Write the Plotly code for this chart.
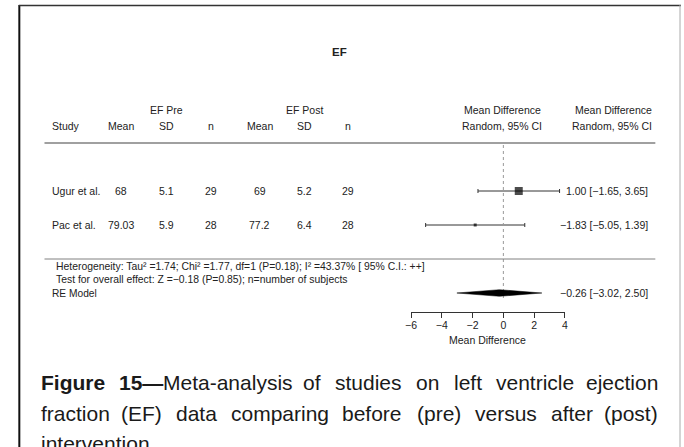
import os
import glob
import plotly.graph_objects as go

W, H = 684, 447

# ---------------- data ----------------
studies = ["Ugur et al.", "Pac et al."]
pre_mean = ["68", "79.03"]
pre_sd = ["5.1", "5.9"]
pre_n = ["29", "28"]
post_mean = ["69", "77.2"]
post_sd = ["5.2", "6.4"]
post_n = ["29", "28"]
md = [1.00, -1.83]
ci_lo = [-1.65, -5.05]
ci_hi = [3.65, 1.39]
re_est = -0.26
re_lo = -3.02
re_hi = 2.50
x_ticks = [-6, -4, -2, 0, 2, 4]
het_text = "Heterogeneity: Tau² =1.74; Chi² =1.77, df=1 (P=0.18); I² =43.37% [ 95% C.I.: ++]"
test_text = "Test for overall effect: Z =−0.18 (P=0.85); n=number of subjects"
caption_lines = [
    [[("Figure", True)], [("15—", True), ("Meta-analysis", False)], [("of", False)],
     [("studies", False)], [("on", False)], [("left", False)], [("ventricle", False)],
     [("ejection", False)]],
    [[(w, False)] for w in "fraction (EF) data comparing before (pre) versus after (post)".split()],
    [[("intervention", False)]],
]

# ---------------- layout helpers ----------------
ROW0_PX = 259.0   # pixel row of y=0
ROW_PX = 34.0     # pixels per row
study_rows = [2, 1]
re_row = -1


def px2row(ypx):
    return (ROW0_PX - ypx) / ROW_PX


def fmt(v):
    return f"{v:.2f}".replace("-", "−")


def have_font(tag):
    for d in ["/usr/share/fonts", "/usr/local/share/fonts", os.path.expanduser("~/.fonts"),
              os.path.expanduser("~/.local/share/fonts")]:
        for p in glob.glob(d + "/**/*", recursive=True):
            if tag.lower() in os.path.basename(p).lower().replace(" ", ""):
                return True
    return False


FONT = "Liberation Sans, Arial, Helvetica, sans-serif"
TXT = "#222222"
FS = 10.5

fig = go.Figure()

# CI lines + points
fig.add_trace(go.Scatter(
    x=md, y=study_rows, mode="markers",
    marker=dict(symbol="square", size=[8, 3], color="black", line=dict(width=0)),
    error_x=dict(type="data", symmetric=False,
                 array=[h - m for h, m in zip(ci_hi, md)],
                 arrayminus=[m - l for l, m in zip(ci_lo, md)],
                 width=2, thickness=1, color="#333333"),
    hoverinfo="skip", showlegend=False))

# reference line at 0
fig.add_trace(go.Scatter(
    x=[0, 0], y=[px2row(145), px2row(301)], mode="lines",
    line=dict(color="#999999", width=1, dash="dot"),
    hoverinfo="skip", showlegend=False))

# RE diamond
dh = 3.3 / ROW_PX
fig.add_trace(go.Scatter(
    x=[re_lo, re_est, re_hi, re_est, re_lo],
    y=[re_row, re_row + dh, re_row, re_row - dh, re_row],
    mode="lines", fill="toself", fillcolor="black",
    line=dict(color="black", width=0.5),
    hoverinfo="skip", showlegend=False))

ann = []


def add_text(text, xpx, row, size=FS, anchor="center", weight="normal", color=TXT, fam=FONT):
    ann.append(dict(text=text, x=xpx / W, xref="paper", y=row, yref="y",
                    xanchor=anchor, yanchor="middle", showarrow=False,
                    font=dict(family=fam, size=size, color=color, weight=weight)))


# title & headers
add_text("EF", 338, px2row(52), size=11.5, weight="bold")
add_text("EF Pre", 163, px2row(110))
add_text("EF Post", 302, px2row(110))
add_text("Mean Difference", 503, px2row(110))
add_text("Mean Difference", 657, px2row(110), anchor="right")
hdr_row = px2row(126)
add_text("Study", 45, hdr_row, anchor="left")
col_x = [117, 163, 208, 257, 302, 347]
for cx, lab in zip(col_x, ["Mean", "SD", "n", "Mean", "SD", "n"]):
    add_text(lab, cx, hdr_row)
add_text("Random, 95% CI", 503, hdr_row)
add_text("Random, 95% CI", 657, hdr_row, anchor="right")

# study rows
for i, r in enumerate(study_rows):
    add_text(studies[i], 45, r, anchor="left")
    for cx, col in zip(col_x, [pre_mean, pre_sd, pre_n, post_mean, post_sd, post_n]):
        add_text(col[i], cx, r)
    add_text(f"{fmt(md[i])} [{fmt(ci_lo[i])}, {fmt(ci_hi[i])}]", 653, r, anchor="right")

# summary
add_text(het_text, 49, px2row(266), size=10.4, anchor="left")
add_text(test_text, 49, px2row(279), size=10.4, anchor="left")
add_text("RE Model", 45, re_row, size=10.2, anchor="left")
add_text(f"{fmt(re_est)} [{fmt(re_lo)}, {fmt(re_hi)}]", 653, re_row, anchor="right")

# x-axis title (centred under the axis)
ann.append(dict(text="Mean Difference", x=sum([x_ticks[0], x_ticks[-1]]) / 2, xref="x",
                y=px2row(340), yref="y", xanchor="center", yanchor="middle", showarrow=False,
                font=dict(family=FONT, size=FS, color=TXT)))

# ---------------- caption (justified) ----------------
HELV = {' ': 278, '(': 333, ')': 333, '-': 333, '.': 278, ',': 278, '—': 1000,
        'A': 667, 'B': 667, 'C': 722, 'D': 722, 'E': 667, 'F': 611, 'G': 778, 'H': 722, 'I': 278,
        'M': 833, 'P': 667, 'R': 722, 'S': 667, 'T': 611,
        'a': 556, 'b': 556, 'c': 500, 'd': 556, 'e': 556, 'f': 278, 'g': 556, 'h': 556, 'i': 222,
        'j': 222, 'k': 500, 'l': 222, 'm': 833, 'n': 556, 'o': 556, 'p': 556, 'q': 556, 'r': 333,
        's': 500, 't': 278, 'u': 556, 'v': 500, 'w': 722, 'x': 500, 'y': 500, 'z': 500}
HELV_B = {'F': 611, 'i': 278, 'g': 611, 'u': 611, 'r': 389, 'e': 556, '1': 556, '5': 556, '—': 1000}

if have_font("LiberationSansNarrow"):
    CAP_FONT, NARROW, CAP_SIZE = "Liberation Sans Narrow", 0.82, 24
else:
    CAP_FONT, NARROW, CAP_SIZE = "Liberation Sans", 1.0, 21


def seg_width(s, bold=False):
    tot = 0
    for ch in s:
        tot += (HELV_B.get(ch, HELV.get(ch, 556)) if bold else HELV.get(ch, 556))
    return tot / 1000.0 * CAP_SIZE * NARROW


def cap_ann(text, xpx, ypx, bold, anchor):
    ann.append(dict(text=text, x=xpx / W, xref="paper", y=1 - ypx / H, yref="paper",
                    xanchor=anchor, yanchor="middle", showarrow=False,
                    font=dict(family=CAP_FONT, size=CAP_SIZE, color="#1a1a1a",
                              weight="bold" if bold else "normal")))


cap_left, cap_right = 33, 663
cap_y = [382, 413, 443]
for li, line in enumerate(caption_lines):
    widths = [sum(seg_width(t, b) for t, b in tok) for tok in line]
    ypx = cap_y[li]
    last = li == len(caption_lines) - 1
    gap = seg_width(" ") if last else (cap_right - cap_left - sum(widths)) / (len(line) - 1)
    x = cap_left
    for j, tok in enumerate(line):
        w = widths[j]
        if len(tok) == 1:
            t, b = tok[0]
            if j == 0 or last:
                cap_ann(t, x, ypx, b, "left")
            elif j == len(line) - 1:
                cap_ann(t, cap_right, ypx, b, "right")
            else:
                cap_ann(t, x + w / 2, ypx, b, "center")
        else:
            sx = x
            for t, b in tok:
                cap_ann(t, sx, ypx, b, "left")
                sx += seg_width(t, b)
        x += w + gap

# ---------------- shapes ----------------
shapes = [
    dict(type="line", xref="paper", yref="y", x0=39 / W, x1=658 / W,
         y0=px2row(143), y1=px2row(143), line=dict(color="#808080", width=1.5)),
    dict(type="line", xref="paper", yref="y", x0=39 / W, x1=658 / W,
         y0=0, y1=0, line=dict(color="#808080", width=1)),
    # figure frame
    dict(type="line", xref="paper", yref="paper", x0=13.5 / W, x1=13.5 / W,
         y0=0, y1=1 - 5 / H, line=dict(color="#111111", width=2)),
    dict(type="line", xref="paper", yref="paper", x0=13 / W, x1=1,
         y0=1 - 5.5 / H, y1=1 - 5.5 / H, line=dict(color="#333333", width=1.5)),
    dict(type="line", xref="paper", yref="paper", x0=683 / W, x1=683 / W,
         y0=0, y1=1 - 5 / H, line=dict(color="#aaaaaa", width=1)),
]

x0_px, scale = 504.0, 15.6
fig.update_layout(
    width=W, height=H, margin=dict(l=0, r=0, t=0, b=0),
    paper_bgcolor="white", plot_bgcolor="rgba(0,0,0,0)",
    showlegend=False, annotations=ann, shapes=shapes,
    xaxis=dict(domain=[(x0_px - 6 * scale) / W, (x0_px + 4 * scale) / W],
               range=[-6, 4], anchor="free", position=1 - 312 / H,
               showline=True, linecolor="#333333", linewidth=1,
               ticks="outside", ticklen=5, tickwidth=1, tickcolor="#333333",
               ticklabelstandoff=-2,
               tickvals=x_ticks, ticktext=[str(t).replace("-", "−") for t in x_ticks],
               tickfont=dict(family=FONT, size=FS, color=TXT),
               showgrid=False, zeroline=False, fixedrange=True),
    yaxis=dict(domain=[0, 1], range=[px2row(H), px2row(0)], visible=False,
               showgrid=False, zeroline=False, fixedrange=True),
)

fig.write_html("out.html")
